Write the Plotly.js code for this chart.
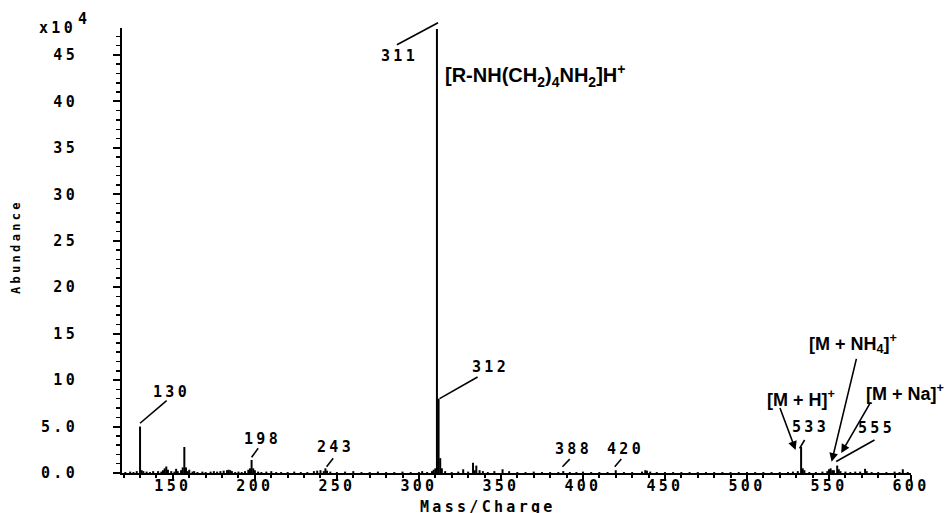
<!DOCTYPE html>
<html><head><meta charset="utf-8">
<script src="https://cdn.plot.ly/plotly-3.0.1.min.js"></script>
<style>
html,body{margin:0;padding:0;background:#fff;}
#chart{width:949px;height:513px;}
text[style*="Mono"]{letter-spacing:3.3px;}
</style></head><body><div id="chart"></div>
<script>
// Mass spectrum: m/z and abundance (x10^4)
const massCharge = [121,124,126,128,130,131,132,134,136,138,141,143,144,145,146,147,149,151,152,153,155,156,157,158,159,160,162,163,165,168,170,173,175,177,179,181,183,184,185,186,188,190,192,194,196,197,198,199,200,202,204,207,210,213,216,220,224,228,232,236,238,240,242,243,244,246,250,255,260,265,270,275,280,285,290,295,300,302,305,308,309,310,311,312,313,314,316,320,324,327,330,333,334,335,337,339,342,346,351,355,360,365,370,375,380,385,388,392,396,400,405,410,415,420,425,430,436,438,439,441,445,450,455,460,465,470,475,480,485,490,495,500,505,510,515,520,525,528,531,533,534,535,538,542,546,549,550,551,552,553,555,556,557,560,563,566,569,572,573,576,580,585,590,593,595,598];
const abundance  = [0.1,0.15,0.1,0.2,5.0,0.3,0.2,0.15,0.1,0.2,0.2,0.15,0.3,0.5,0.7,0.35,0.2,0.15,0.45,0.2,0.3,0.6,2.8,0.6,0.2,0.35,0.15,0.2,0.1,0.15,0.1,0.15,0.2,0.15,0.2,0.25,0.3,0.35,0.3,0.2,0.1,0.15,0.1,0.2,0.35,0.5,1.4,0.5,0.3,0.15,0.1,0.15,0.2,0.1,0.1,0.1,0.15,0.1,0.1,0.2,0.25,0.3,0.2,0.5,0.25,0.15,0.1,0.15,0.2,0.1,0.1,0.15,0.1,0.1,0.15,0.1,0.1,0.2,0.1,0.2,0.35,0.5,47.8,8.0,1.6,0.5,0.2,0.1,0.15,0.4,0.15,1.1,0.3,0.8,0.3,0.2,0.1,0.2,0.4,0.2,0.1,0.1,0.15,0.1,0.1,0.1,0.2,0.1,0.1,0.15,0.1,0.1,0.1,0.3,0.1,0.1,0.15,0.3,0.25,0.15,0.1,0.1,0.1,0.1,0.1,0.1,0.1,0.1,0.1,0.1,0.1,0.1,0.1,0.1,0.1,0.1,0.1,0.15,0.2,2.8,0.5,0.3,0.1,0.1,0.15,0.2,0.4,0.5,0.3,0.3,0.8,0.4,0.2,0.15,0.1,0.15,0.15,0.45,0.2,0.1,0.1,0.1,0.15,0.1,0.4,0.1];

const xTickVals = [150,200,250,300,350,400,450,500,550,600];
const yTickVals = [0,5,10,15,20,25,30,35,40,45];
const yTickText = ['0.0','5.0','10','15','20','25','30','35','40','45'];

const peakLabels = [130,198,243,311,312,388,420,533,555];
const baseIonLabel = '[R-NH(CH<sub>2</sub>)<sub>4</sub>NH<sub>2</sub>]H<sup>+</sup>';
const ionLabels = ['[M + H]<sup>+</sup>','[M + NH<sub>4</sub>]<sup>+</sup>','[M + Na]<sup>+</sup>'];
const ionPeaks = [533,551,555];

// sticks
const sx = [], sy = [];
massCharge.forEach((m,i)=>{ sx.push(m,m,null); sy.push(0,abundance[i],null); });
const h = m => abundance[massCharge.indexOf(m)];

const mono = {family:'DejaVu Sans Mono', size:15, color:'#000', weight:'bold'};
const sans = {family:'Liberation Sans, Arial, sans-serif', size:18, color:'#000', weight:'bold'};

// pixel layout of labels relative to peak tops: [text dx, dy, line x0,y0,x1,y1] (y up)
const labelPos = {
  130:[31.6,34.6, 0,3.3,26.6,26],
  198:[11.3,21, 0,2.7,6.6,11.7],
  243:[10,21, 1.2,1.7,7.8,10.1],
  311:[-37,-27.1, 1.1,6.2,-40.5,-16.1],
  312:[52,31.7, 1,0,39,21.7],
  388:[10.5,22, -0.8,4.4,6.5,12],
  420:[9.4,21.2, -1,3.5,5.6,11.2],
  533:[9,19.5, -1.5,-1.3,3.5,7],
  555:[39.8,38, -1,4,37.3,25.6]
};
const annotations = [], shapes = [];
peakLabels.forEach(m=>{
  const p = labelPos[m];
  annotations.push({x:m, y:h(m), xref:'x', yref:'y', text:String(m), showarrow:false,
    xshift:p[0], yshift:p[1], font:mono, xanchor:'center', yanchor:'middle'});
  if (m === 311) {
    // leader reaches above the plot top, so draw it as an annotation arrow (not clipped)
    annotations.push({x:m, y:h(m), xref:'x', yref:'y', text:' ', showarrow:true, arrowhead:0,
      arrowwidth:1.6, arrowcolor:'#000', font:{size:1}, borderpad:0,
      xshift:p[2], yshift:p[3], ax:p[4]-p[2], ay:-(p[5]-p[3])});
  } else {
    shapes.push({type:'line', xref:'x', yref:'y', xsizemode:'pixel', ysizemode:'pixel',
      xanchor:m, yanchor:h(m), x0:p[2], y0:p[3], x1:p[4], y1:p[5],
      line:{color:'#000', width:1.6}});
  }
});
// base peak ion label
annotations.push({x:311, y:h(311), xref:'x', yref:'y', text:baseIonLabel, showarrow:false,
  xanchor:'left', yanchor:'middle', xshift:6, yshift:-46.1, font:{...sans, size:20}});
// ion labels with arrows: [text dx, dy, tip dx, dy, tail ax, ay]
const ionPos = [
  [-0.5,48, -5.5,-3, -16,-43],
  [22,124.5, 1,6.5, 25,-104],
  [68,73, 4,12.5, 29,-50]
];
ionLabels.forEach((t,i)=>{
  const m = ionPeaks[i], p = ionPos[i];
  annotations.push({x:m, y:h(m), xref:'x', yref:'y', text:t, showarrow:false,
    xshift:p[0], yshift:p[1], font:sans, xanchor:'center', yanchor:'middle'});
  annotations.push({x:m, y:h(m), xref:'x', yref:'y', text:' ', showarrow:true, arrowhead:2,
    arrowsize:1.1, arrowwidth:1.6, arrowcolor:'#000', font:{size:1}, borderpad:0,
    xshift:p[2], yshift:p[3], ax:p[4], ay:p[5]});
});
// axis titles and multiplier
annotations.push({xref:'paper', yref:'paper', x:-0.1343, y:0.508, text:'Abundance', textangle:-90,
  showarrow:false, font:{...mono, size:12}, xanchor:'center', yanchor:'middle'});
annotations.push({xref:'paper', yref:'paper', x:0.4636, y:-0.0764, text:'Mass/Charge',
  showarrow:false, font:mono, xanchor:'center', yanchor:'middle'});
annotations.push({xref:'paper', yref:'paper', x:-0.0823, y:1.0, text:'x10',
  showarrow:false, font:mono, xanchor:'center', yanchor:'middle'});
annotations.push({xref:'paper', yref:'paper', x:-0.0482, y:1.0202, text:'4',
  showarrow:false, font:mono, xanchor:'center', yanchor:'middle'});

const trace = {x:sx, y:sy, type:'scatter', mode:'lines', line:{color:'#000', width:2},
  hoverinfo:'skip', connectgaps:false};

const layout = {
  width:949, height:513, margin:{l:122, r:37.5, t:28, b:40},
  paper_bgcolor:'#fff', plot_bgcolor:'#fff', showlegend:false,
  xaxis:{range:[119,600], showgrid:false, zeroline:false, showline:true, linecolor:'#000', linewidth:2,
    tickmode:'array', tickvals:xTickVals, ticks:'outside', ticklen:6, tickwidth:2, tickcolor:'#000',
    tickfont:mono, automargin:false, ticklabelstandoff:-8,
    minor:{dtick:10, tick0:0, ticks:'outside', ticklen:3, tickwidth:2, tickcolor:'#000', showgrid:false}},
  yaxis:{range:[0,47.9], showgrid:false, zeroline:false, showline:true, linecolor:'#000', linewidth:2,
    tickmode:'array', tickvals:yTickVals, ticktext:yTickText, ticks:'outside', ticklen:7, tickwidth:2,
    tickcolor:'#000', tickfont:mono, automargin:false, ticklabelstandoff:32,
    minor:{dtick:1, tick0:0, ticks:'outside', ticklen:4, tickwidth:1.5, tickcolor:'#000', showgrid:false}},
  shapes:shapes,
  annotations:annotations
};
Plotly.newPlot('chart', [trace], layout, {displayModeBar:false, staticPlot:true});
</script></body></html>
